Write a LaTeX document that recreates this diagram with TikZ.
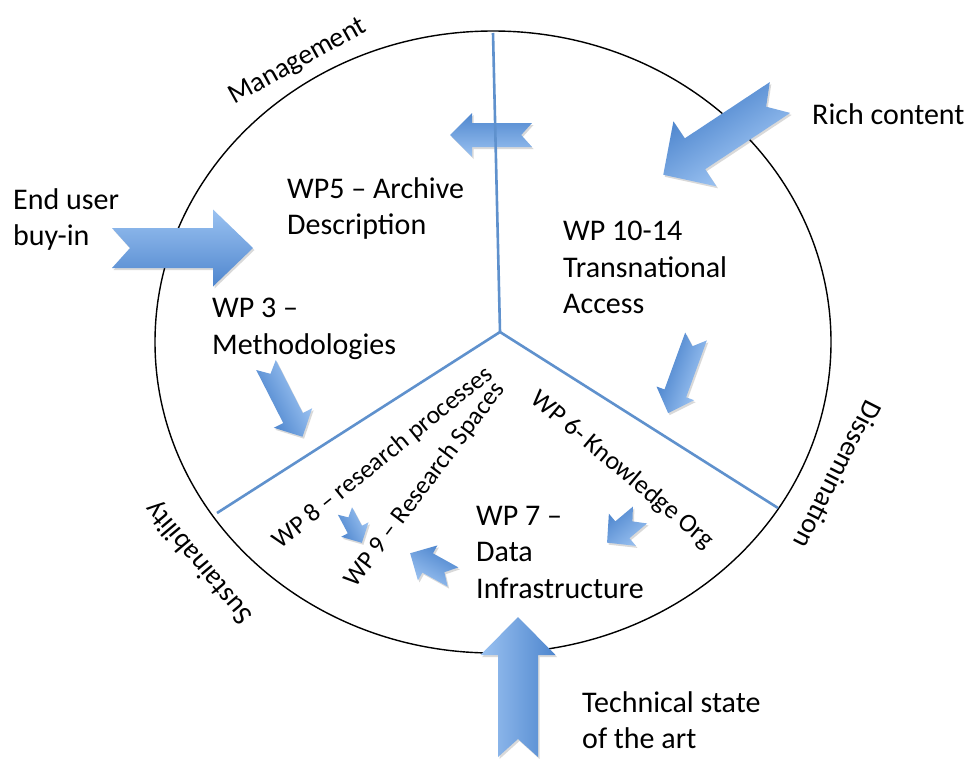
\documentclass[tikz,border=0pt]{standalone}
\usepackage{fontspec}
\setmainfont{Carlito}
\usetikzlibrary{calc}
\definecolor{arrlight}{RGB}{155,194,241}
\definecolor{arrdark}{RGB}{78,134,206}
\definecolor{ylinec}{RGB}{95,145,205}
% notched block arrow outline, along +x from tail (0,0): #1 length, #2 shaft half width, #3 head half width, #4 head length
\newcommand{\arrshape}[4]{(0,#2) -- ({#1-#4},#2) -- ({#1-#4},#3) -- (#1,0) -- ({#1-#4},-#3) -- ({#1-#4},-#2) -- (0,-#2) -- ({0.9*#2},0) -- cycle}
% #1,#2 tail middle; #3 direction; #4..#7 as above
\newcommand{\blockarrow}[7]{%
  \begin{scope}[transform canvas={shift={({#1+1.5},{#2+2})},rotate=#3}]
    \fill[black,opacity=0.15] \arrshape{#4}{#5}{#6}{#7};
  \end{scope}
  \begin{scope}[transform canvas={shift={(#1,#2)},rotate=#3}]
    \shade[top color=arrlight,bottom color=arrdark] \arrshape{#4}{#5}{#6}{#7};
  \end{scope}}
\tikzset{
  lbl/.style={font=\fontsize{30}{36.5}\selectfont, inner sep=0pt, align=left, anchor=north west},
  rlbl/.style={font=\fontsize{25.5}{30}\selectfont, inner sep=0pt},
  olbl/.style={font=\fontsize{28}{34}\selectfont, inner sep=0pt},
  ylinest/.style={draw=ylinec, line width=2.6pt}
}
\begin{document}
\begin{tikzpicture}[x=1pt,y=-1pt]
\fill[white] (0,0) rectangle (971,758);
\useasboundingbox (0,0) rectangle (971,758);
\coordinate (C) at (493,342);
\coordinate (Y) at (500,332);
\coordinate (T) at (493,33);
\coordinate (L) at (217,513);
\coordinate (R) at (778,508);
% circle
\draw[black, line width=1.4pt] (C) ellipse [x radius=338, y radius=311];
% block arrows
\blockarrow{112}{248}{0}{141}{20}{38.5}{40}
\blockarrow{532}{135}{180}{82}{12}{22}{22}
\blockarrow{780}{97.5}{213.5}{140}{18.5}{39}{38}
\blockarrow{696}{336.5}{250}{81.5}{11.5}{20}{21}
\blockarrow{266}{365}{-63}{80.5}{11}{21.5}{21}
\blockarrow{640}{515}{220}{43}{11}{21}{20}
\blockarrow{453}{577}{151}{49}{11}{20}{20}
\blockarrow{345}{511}{-62}{36}{8}{15.5}{15}
\blockarrow{518}{757}{90}{140}{20}{37.5}{38}
% dividing lines
\draw[ylinest] (Y) -- (T);
\draw[ylinest] (Y) -- (L);
\draw[ylinest] (Y) -- (R);
% outer labels
\node[olbl, rotate=29] (mgmt) at (298,62) {Management};
\node[olbl, rotate=-117] (diss) at (838,475) {Dissemination};
\node[olbl, rotate=130] (sust) at (199,562) {Sustainability};
% labels
\node[lbl] (rich) at (812,103) {Rich content};
\node[lbl] (enduser) at (13,188) {End user\\buy-in};
\node[lbl] (wp5) at (287,177) {WP5 – Archive\\Description};
\node[lbl] (wp3) at (212,298) {WP 3 –\\Methodologies};
\node[lbl] (wp10) at (563,221) {WP 10-14\\Transnational\\Access};
\node[lbl] (wp7) at (476,506) {WP 7 –\\Data\\Infrastructure};
\node[lbl] (tech) at (582,691) {Technical state\\of the art};
\node[rlbl, rotate=39] (wp8) at (383,458) {WP 8 – research processes};
\node[rlbl, rotate=53] (wp9) at (425,485) {WP 9 – Research Spaces};
\node[rlbl, font=\fontsize{26}{31}\selectfont, rotate=-40] (wp6) at (622,470) {WP 6- Knowledge Org};
\end{tikzpicture}
\end{document}
